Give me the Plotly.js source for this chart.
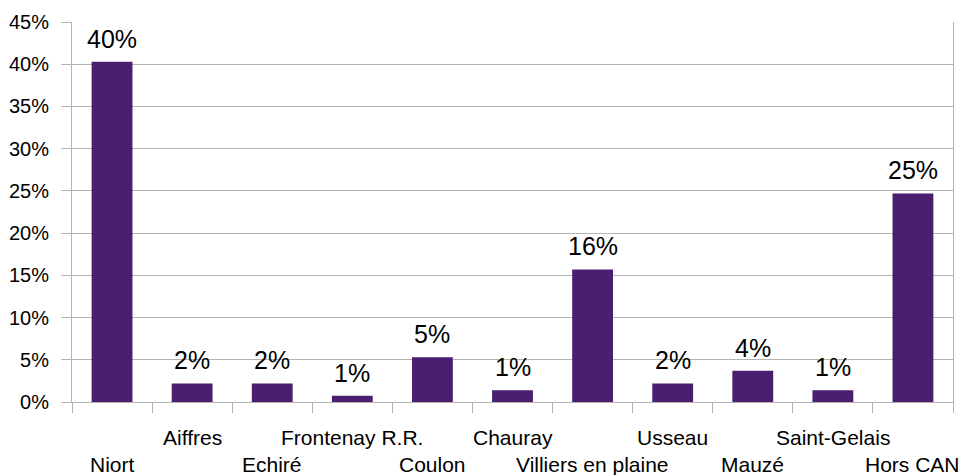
<!DOCTYPE html>
<html>
<head>
<meta charset="utf-8">
<script src="https://cdn.plot.ly/plotly-3.0.1.min.js"></script>
<style>html,body{margin:0;padding:0;background:#fff;overflow:hidden;width:962px;height:475px;}#chart{width:962px;height:475px;}</style>
</head>
<body>
<div id="chart"></div>
<script>
var categories = ["Niort", "Aiffres", "Echiré", "Frontenay R.R.", "Coulon", "Chauray", "Villiers en plaine", "Usseau", "Mauzé", "Saint-Gelais", "Hors CAN"];
var shares = [0.403, 0.022, 0.022, 0.0075, 0.053, 0.014, 0.157, 0.022, 0.037, 0.014, 0.247];
var yTickVals = [0, 0.05, 0.10, 0.15, 0.20, 0.25, 0.30, 0.35, 0.40, 0.45];

var FONT = "Liberation Sans, Arial, sans-serif";
var annotations = [];
categories.forEach(function (c, i) {
  annotations.push({
    x: c, xref: "x", y: 0, yref: "paper",
    text: c, showarrow: false,
    yanchor: "middle", yshift: (i % 2 === 0) ? -62 : -35,
    font: {family: FONT, size: 21, color: "#000"}
  });
  annotations.push({
    x: c, xref: "x", y: shares[i], yref: "y",
    text: Math.round(shares[i] * 100) + "%", showarrow: false,
    yanchor: "middle", yshift: 23,
    font: {family: FONT, size: 25, color: "#000"}
  });
});

var trace = {
  type: "bar",
  x: categories,
  y: shares,
  marker: {color: "#4b1f6f", line: {width: 0}},
  hoverinfo: "x+y"
};

var layout = {
  width: 962, height: 475, autosize: false,
  margin: {l: 72, r: 9, t: 22, b: 73, pad: 0, autoexpand: false},
  paper_bgcolor: "#fff", plot_bgcolor: "#fff",
  showlegend: false,
  bargap: 0.49,
  font: {family: FONT, color: "#000"},
  xaxis: {
    type: "category", automargin: false,
    range: [-0.5, categories.length - 0.5], autorange: false,
    showticklabels: false,
    ticks: "outside", tickson: "boundaries", ticklen: 10, tickwidth: 1, tickcolor: "#b3b3b3",
    showline: true, linecolor: "#b3b3b3", linewidth: 1,
    showgrid: false, zeroline: false, fixedrange: true
  },
  yaxis: {
    range: [0, 0.45], autorange: false, automargin: false,
    tickvals: yTickVals,
    tickformat: ".0%",
    ticks: "outside", ticklen: 10, tickwidth: 1, tickcolor: "#b3b3b3",
    ticklabelstandoff: 8,
    tickfont: {family: FONT, size: 20, color: "#000"},
    showline: true, mirror: true, linecolor: "#b3b3b3", linewidth: 1,
    showgrid: true, gridcolor: "#b3b3b3", gridwidth: 1,
    zeroline: false, fixedrange: true
  },
  annotations: annotations
};

Plotly.newPlot("chart", [trace], layout, {displayModeBar: false, staticPlot: true, responsive: false});
</script>
</body>
</html>
